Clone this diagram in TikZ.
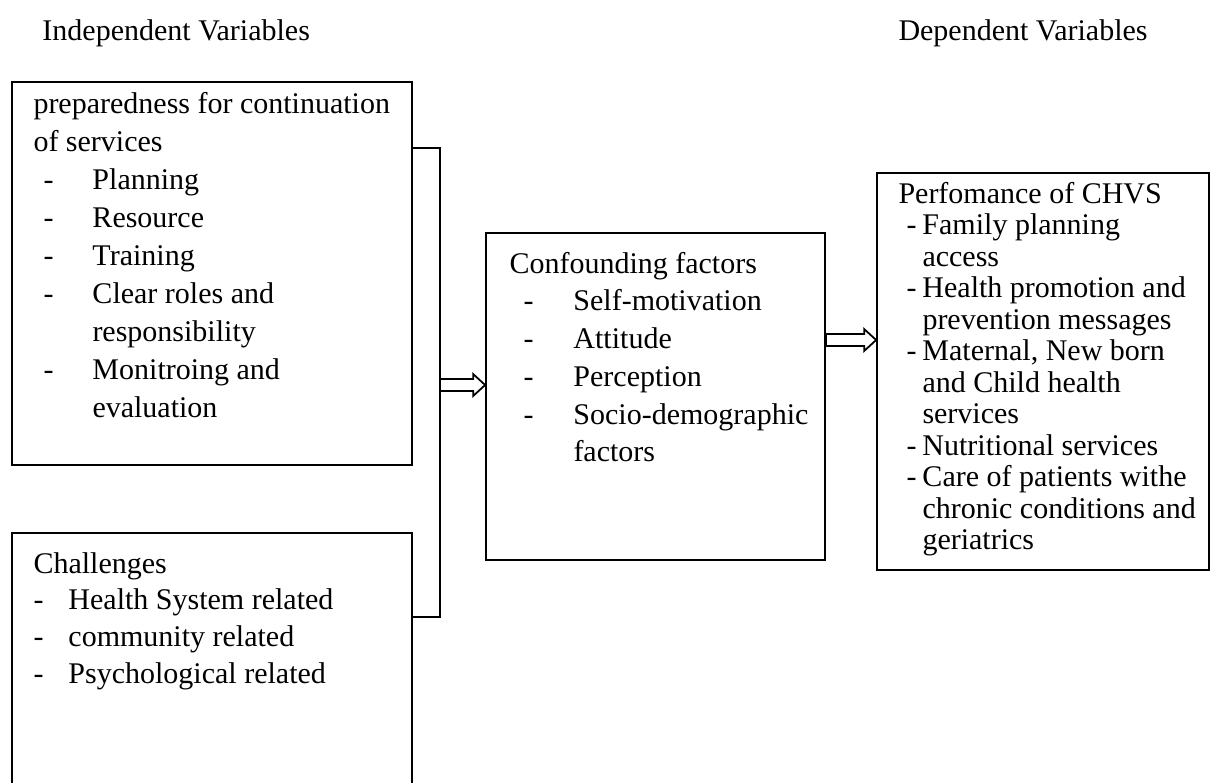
\documentclass[tikz,border=0pt]{standalone}
\usepackage{fontspec}
\setmainfont{Liberation Serif}
\usetikzlibrary{positioning, fit, calc}

% header row spanning both columns of a list
\newcommand{\hd}[1]{\multicolumn{2}{@{}l@{}}{#1}}
% hollow block arrow between two points at the same height
\newcommand{\openarrow}[2]{%
  \draw[blockarrow] ($(#1)+(0,-6)$) -- ($(#2)+(-12,-6)$) -- ($(#2)+(-12,-11)$) -- (#2)
    -- ($(#2)+(-12,11)$) -- ($(#2)+(-12,6)$) -- ($(#1)+(0,6)$) -- cycle;}

\begin{document}
\begin{tikzpicture}[
  x=0.4pt, y=-0.4pt,
  box/.style={draw, line width=0.7pt, inner sep=0pt},
  txt/.style={anchor=base west, inner sep=0pt, align=left, font=\fontsize{12}{#1}\selectfont},
  head/.style={anchor=base west, inner sep=0pt, font=\fontsize{12}{14}\selectfont},
  blockarrow/.style={line width=0.7pt, fill=white, line join=miter}
]
\useasboundingbox (0,0) rectangle (1221,782);

% Headings
\node[head] (indep) at (42,40) {Independent Variables};
\node[head] (dep) at (898,40) {Dependent Variables};

% Boxes
\node[box, fit={(12,82) (412,465)}] (prep) {};
\node[box, fit={(12,533) (412,800)}] (chal) {};
\node[box, fit={(486,233) (825,560)}] (conf) {};
\node[box, fit={(877,173) (1209,570)}] (perf) {};

% Box texts
\node[txt=15.2pt] (preptext) at (33,113) {%
  \begin{tabular}[t]{@{\hspace{4pt}}p{19.6pt}@{}l@{}}
  \hd{preparedness for continuation}\\
  \hd{of services}\\
  - & Planning\\
  - & Resource\\
  - & Training\\
  - & Clear roles and\\
    & responsibility\\
  - & Monitroing and\\
    & evaluation
  \end{tabular}};

\node[txt=14.7pt] (chaltext) at (33,573) {%
  \begin{tabular}[t]{@{}p{14pt}@{}l@{}}
  \hd{Challenges}\\
  - & Health System related\\
  - & community related\\
  - & Psychological related
  \end{tabular}};

\node[txt=15.1pt] (conftext) at (509,273) {%
  \begin{tabular}[t]{@{\hspace{5.6pt}}p{20pt}@{}l@{}}
  \hd{Confounding factors}\\
  - & Self-motivation\\
  - & Attitude\\
  - & Perception\\
  - & Socio-demographic\\
    & factors
  \end{tabular}};

\node[txt=12.6pt] (perftext) at (898,203) {%
  \begin{tabular}[t]{@{\hspace{3.2pt}}p{6.4pt}@{}l@{}}
  \hd{Perfomance of CHVS}\\
  - & Family planning\\
    & access\\
  - & Health promotion and\\
    & prevention messages\\
  - & Maternal, New born\\
    & and Child health\\
    & services\\
  - & Nutritional services\\
  - & Care of patients withe\\
    & chronic conditions and\\
    & geriatrics
  \end{tabular}};

% Connectors
\coordinate (join) at (440,385);
\draw[line width=0.7pt] (prep.east |- 0,148) -| (join) |- (chal.east |- 0,617);
\openarrow{join}{conf.west |- join}
\coordinate (confout) at (conf.east |- 0,340);
\openarrow{confout}{perf.west |- confout}

\end{tikzpicture}
\end{document}
